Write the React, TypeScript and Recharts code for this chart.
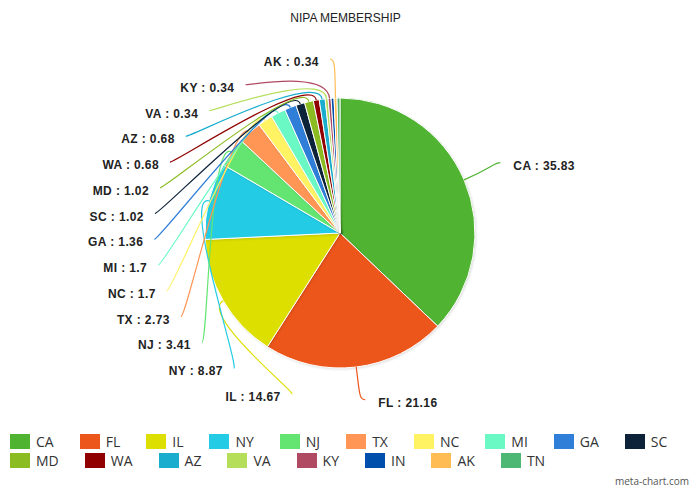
import { useMemo } from "react";
import { Cell, Legend, Pie, PieChart } from "recharts";

const states = [
  "CA", "FL", "IL", "NY", "NJ", "TX", "NC", "MI", "GA",
  "SC", "MD", "WA", "AZ", "VA", "KY", "IN", "AK", "TN",
];
const members = [
  35.83, 21.16, 14.67, 8.87, 3.41, 2.73, 1.7, 1.7, 1.36,
  1.02, 1.02, 0.68, 0.68, 0.34, 0.34, 0.34, 0.34, 0.34,
];
const colors = [
  "#50b432", "#ed561b", "#dddf00", "#24cbe5", "#64e572", "#ff9655", "#fff263", "#6af9c4", "#2f7ed8",
  "#0d233a", "#8bbc21", "#910000", "#1aadce", "#b5df5b", "#b04a62", "#004fac", "#ffbc55", "#4cb874",
];
// slices whose labels are dropped (too crowded)
const unlabeled = ["IN", "TN"];

const W = 691;
const H = 487;
const CX = 340;
const CY = 233;
const R = 135;
// label ellipse
const RX = 197;
const RY = 172;
const SPACING = 25.77;

interface Datum {
  name: string;
  value: number;
  color: string;
}

interface LabelPos {
  side: "left" | "right" | "none";
  x: number;
  y: number;
}

const rad = (d: number) => (d * Math.PI) / 180;

export default function App() {
  const data = useMemo<Datum[]>(
    () => states.map((s, i) => ({ name: s, value: members[i], color: colors[i] })),
    [],
  );

  // work out where each label sits: right side by angle, left side stacked
  const positions = useMemo<LabelPos[]>(() => {
    const total = members.reduce((a, b) => a + b, 0);
    let cum = 0;
    const mids = members.map((v) => {
      const m = ((cum + v / 2) / total) * 360;
      cum += v;
      return m;
    });
    const left = mids
      .map((m, i) => ({ m, i }))
      .filter(({ m, i }) => m > 180 && !unlabeled.includes(states[i]))
      .sort((a, b) => b.m - a.m);
    return mids.map((m, i) => {
      if (unlabeled.includes(states[i])) return { side: "none", x: 0, y: 0 };
      if (m <= 180) {
        return {
          side: "right",
          x: CX + 169 * Math.sin(rad(m)) + 18,
          y: CY - 171 * Math.cos(rad(m)),
        };
      }
      const rank = left.findIndex((l) => l.i === i);
      const y = CY - RY + 1 + rank * SPACING;
      const dy = y - CY;
      const dx = RX * Math.sqrt(Math.max(0, 1 - (dy / RY) ** 2));
      return { side: "left", x: CX - dx, y };
    });
  }, []);

  const renderLabel = (props: any) => {
    const { cx, cy, midAngle, outerRadius, index } = props;
    const pos = positions[index];
    if (!pos || pos.side === "none") return null;
    const a = rad(-midAngle);
    const ex = cx + outerRadius * Math.cos(a);
    const ey = cy + outerRadius * Math.sin(a);
    const ox = cx + (outerRadius + 28) * Math.cos(a);
    const oy = cy + (outerRadius + 28) * Math.sin(a);
    const isLeft = pos.side === "left";
    const lx = isLeft ? pos.x + 11 : pos.x - 13;
    const ly = pos.y - 3;
    const px = isLeft ? lx + 6 : lx - 6;
    const path = `M${ex},${ey} C${ox},${oy} ${px},${ly} ${lx},${ly}`;
    return (
      <g key={`lbl-${index}`}>
        <path d={path} stroke={data[index].color} strokeWidth={1.2} fill="none" />
        <text
          x={pos.x}
          y={pos.y}
          dy={4}
          textAnchor={isLeft ? "end" : "start"}
          fontFamily="'Liberation Sans', Arial, sans-serif"
          fontSize={12}
          fontWeight="bold"
          letterSpacing={0.4}
          fill="#222"
        >
          {`${data[index].name} : ${data[index].value}`}
        </text>
      </g>
    );
  };

  return (
    <div style={{ position: "absolute", left: 0, top: 0, width: W, height: H, background: "#fff" }}>
      <style>{`.recharts-pie-sector path { filter: drop-shadow(1px 1px 1px rgba(0,0,0,0.12)); }`}</style>
      <div
        style={{
          position: "absolute",
          top: 11,
          left: 0,
          width: W,
          textAlign: "center",
          fontFamily: "'Liberation Sans', Arial, sans-serif",
          fontSize: 12,
          color: "#222",
        }}
      >
        NIPA MEMBERSHIP
      </div>
      <PieChart width={W} height={H} margin={{ top: 0, right: 0, bottom: 0, left: 0 }}>
        <Pie
          data={data}
          dataKey="value"
          nameKey="name"
          cx={CX}
          cy={CY}
          outerRadius={R}
          startAngle={90}
          endAngle={-270}
          stroke="#fff"
          strokeWidth={1}
          label={renderLabel}
          labelLine={false}
          isAnimationActive={false}
        >
          {data.map((d) => (
            <Cell key={d.name} fill={d.color} />
          ))}
        </Pie>
        <Legend
          verticalAlign="bottom"
          wrapperStyle={{ left: 0, top: 434, bottom: "auto", width: W }}
          content={() => (
            <div
              style={{
                display: "flex",
                flexWrap: "wrap",
                columnGap: 26,
                rowGap: 4,
                width: 676,
                paddingLeft: 10,
              }}
            >
              {data.map((d) => (
                <div key={d.name} style={{ display: "flex", alignItems: "center", height: 15 }}>
                  <span style={{ width: 20, height: 15, background: d.color, marginRight: 6 }} />
                  <span
                    style={{
                      fontFamily: "'Open Sans', sans-serif",
                      fontSize: 14,
                      color: "#333",
                      lineHeight: "15px",
                    }}
                  >
                    {d.name}
                  </span>
                </div>
              ))}
            </div>
          )}
        />
      </PieChart>
      <div
        style={{
          position: "absolute",
          right: 2,
          top: 474,
          fontFamily: "'Open Sans', sans-serif",
          fontSize: 10,
          color: "#555",
          whiteSpace: "nowrap",
        }}
      >
        meta-chart.com
      </div>
    </div>
  );
}
